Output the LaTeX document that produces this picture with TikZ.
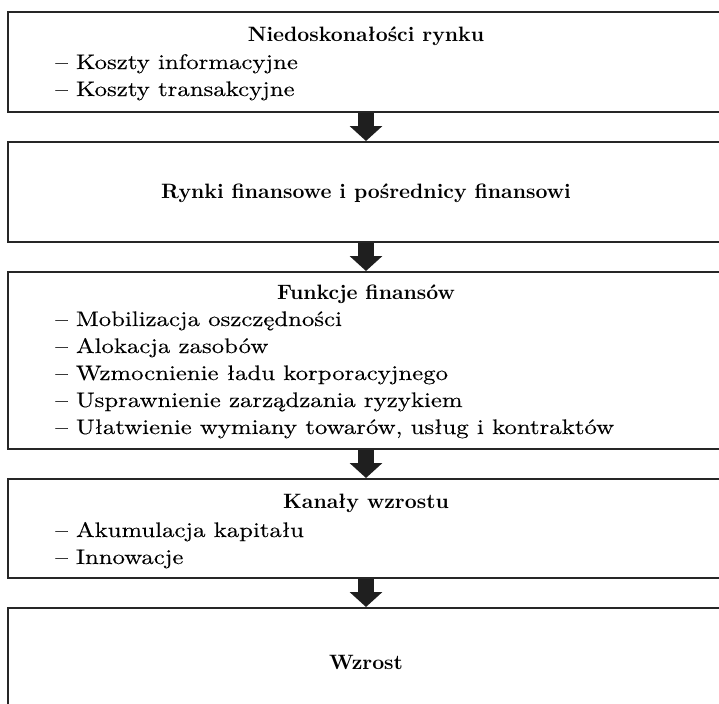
\documentclass[tikz,border=0pt]{standalone}
\usepackage{fontspec}
\newfontfamily\listfont{lmroman10-regular}[Extension=.otf,FakeStretch=1.18,FakeBold=0.25]
\usetikzlibrary{arrows.meta}

\begin{document}
\begin{tikzpicture}[x=0.5pt,y=-0.5pt,
    every node/.style={text=black},
    box/.style={draw=black!85,line width=1pt,minimum width=358pt,inner sep=0pt},
    title/.style={font={\fontsize{10.4}{13.5}\selectfont\bfseries},anchor=base},
    items/.style={font={\fontsize{10.5}{13.5}\selectfont\listfont},
        align=left,anchor=base west,inner sep=0pt},
    flow/.style={draw=black!88,line width=8pt,
        -{Triangle[width=16pt,length=7.5pt]}}]
\useasboundingbox (0,0) rectangle (719,703);
\clip (0,0) rectangle (719,703);

\node[box,minimum height=50pt] (rynek) at (366,62) {};
\node[box,minimum height=50pt] (posrednicy) at (366,192) {};
\node[box,minimum height=88.5pt] (funkcje) at (366,360.5) {};
\node[box,minimum height=49.5pt] (kanaly) at (366,528.5) {};
\node[box,minimum height=60pt] (wzrost) at (366,668) {};

% texts (items anchored at their last line)
\node[title] (rynekT) at (366,41) {Niedoskonałości rynku};
\node[items] (rynekL) at (55,96) {– Koszty informacyjne\\– Koszty transakcyjne};
\node[title] (posrednicyT) at (366,198) {Rynki finansowe i pośrednicy finansowi};
\node[title] (funkcjeT) at (366,299) {Funkcje finansów};
\node[items] (funkcjeL) at (55,434) {– Mobilizacja oszczędności\\
    – Alokacja zasobów\\– Wzmocnienie ładu korporacyjnego\\
    – Usprawnienie zarządzania ryzykiem\\
    – Ułatwienie wymiany towarów, usług i kontraktów};
\node[title] (kanalyT) at (366,508) {Kanały wzrostu};
\node[items] (kanalyL) at (55,564) {– Akumulacja kapitału\\– Innowacje};
\node[title] (wzrostT) at (366,669) {Wzrost};

\draw[flow] (rynek.south) -- (posrednicy.north);
\draw[flow] (posrednicy.south) -- (funkcje.north);
\draw[flow] (funkcje.south) -- (kanaly.north);
\draw[flow] (kanaly.south) -- (wzrost.north);
\end{tikzpicture}
\end{document}
